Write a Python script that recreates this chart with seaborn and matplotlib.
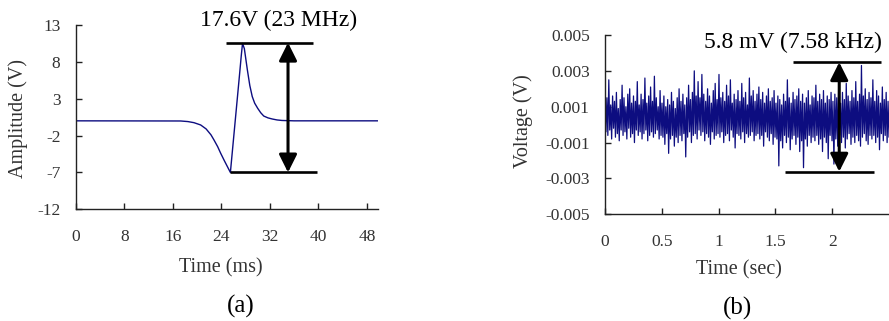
import numpy as np
import pandas as pd
import matplotlib
matplotlib.use("Agg")
import matplotlib.pyplot as plt
import seaborn as sns

# ---------------- data ----------------
# (a) pulse waveform: time (ms) and amplitude (V)
pulse_time_ms = [0, 17.3, 18.5, 19.5, 20.6, 21.5, 22.3, 22.8,
                 23.4, 23.9, 24.5, 25.0, 25.5, 26.0, 26.5, 27.0, 27.3, 27.5, 27.8, 28.3,
                 28.7, 29.1, 29.5, 30.0, 30.5, 31.0, 31.7, 32.4, 33.2, 34.0, 36, 49.8]
pulse_amp_v = [0.0, -0.02, -0.1, -0.25,
               -0.56, -1.1, -1.9, -2.6, -3.5, -4.4, -5.4, -6.2, -7.0, -2.6, 1.8, 6.2, 8.9,
               10.5, 9.8, 6.9, 4.8, 3.3, 2.4, 1.7, 1.1, 0.65, 0.4, 0.25, 0.12, 0.05, 0.0, 0.0]

# (b) noise trace: voltage in mV, sampled evenly from 0 to 2.5 s
noise_t_end_s = 2.5
noise_mv = [
    1.2, -0.4, 1.5, -0.6, 2.5, -0.3, 1.1, -0.8, 1.6, -0.2, 1.3, -0.7, 1.8, -0.5, 0.9, -0.9, 1.4, -0.3, 2.2, -0.6,
    1.5, -0.4, 1.0, -0.8, 1.7, -0.2, 2.0, -0.7, 1.2, -0.5, 1.6, -1.0, 1.3, -0.3, 2.4, -0.6, 1.1, -0.4, 1.7, -0.8,
    1.4, -0.5, 2.6, -0.3, 1.2, -0.9, 1.6, -0.6, 2.1, -0.4, 1.3, -0.7, 2.7, -0.5, 1.5, -0.3, 1.0, -0.8, 1.9, -0.6,
    1.2, -0.7, 1.6, -1.1, 1.0, -0.5, 1.4, -1.6, 1.1, -0.8, 1.8, -0.6, 1.3, -1.2, 0.9, -0.7, 1.5, -1.0, 2.0, -0.6,
    1.3, -0.9, 1.7, -0.5, 1.1, -1.8, 1.5, -0.7, 2.2, -0.4, 1.4, -1.0, 1.8, -0.6, 3.0, -0.5, 1.6, -0.8, 2.4, -0.3,
    1.5, -0.6, 2.8, -0.4, 1.7, -0.9, 1.3, -0.5, 2.0, -0.7, 1.6, -1.1, 1.2, -0.4, 1.9, -0.8, 2.3, -0.6, 1.4, -0.5,
    2.8, -0.7, 1.5, -0.4, 1.8, -1.0, 1.3, -0.6, 2.2, -0.5, 1.6, -0.9, 2.5, -0.3, 1.2, -0.7, 1.7, -1.3, 1.4, -0.5,
    1.9, -0.6, 1.3, -0.8, 2.3, -0.4, 1.5, -1.0, 1.8, -0.5, 1.1, -0.7, 2.6, -0.6, 1.6, -0.4, 1.9, -0.9, 1.3, -0.6,
    1.7, -0.5, 2.1, -0.8, 1.4, -0.6, 1.8, -1.2, 1.2, -0.4, 1.6, -0.7, 2.0, -0.9, 1.3, -0.5, 1.5, -1.1, 1.9, -0.7,
    1.2, -0.8, 1.6, -2.3, 1.4, -0.9, 1.1, -1.3, 1.7, -0.6, 1.3, -1.0, 2.5, -0.7, 1.5, -1.4, 1.2, -0.8, 1.8, -0.6,
    1.4, -1.1, 1.6, -0.7, 2.0, -1.5, 1.3, -0.9, 1.7, -2.4, 1.2, -0.8, 1.5, -1.2, 1.9, -0.6, 1.1, -1.0, 1.6, -0.7,
    1.5, -0.9, 2.2, -0.6, 1.3, -1.1, 1.7, -0.8, 1.4, -1.5, 1.9, -0.7, 1.2, -1.0, 1.6, -1.9, 1.4, -0.6, 1.8, -0.9,
    1.3, -2.2, 1.7, -0.8, 1.5, -1.2, 2.1, -0.6, 1.2, -1.0, 1.8, -0.7, 1.4, -1.3, 2.3, -0.8, 1.6, -0.5, 1.3, -1.1,
    1.9, -0.7, 1.5, -1.0, 2.4, -0.6, 1.3, -0.9, 1.7, -1.2, 3.3, -0.7, 1.6, -0.5, 2.0, -0.9, 1.4, -1.1, 1.8, -0.6,
    1.5, -0.8, 2.5, -0.6, 1.3, -1.0, 1.9, -0.7, 1.6, -1.4, 1.2, -0.5, 2.1, -0.9, 1.4, -0.6, 1.8, -1.0, 1.3, -0.7,
]

# ticks / labels
a_xticks = [0, 8, 16, 24, 32, 40, 48]
a_yticks = [-12, -7, -2, 3, 8, 13]
b_xticks = [0, 0.5, 1, 1.5, 2]
b_xticklabels = ["0", "0.5", "1", "1.5", "2"]
b_yticks = [-0.005, -0.003, -0.001, 0.001, 0.003, 0.005]
b_yticklabels = ["-0.005", "-0.003", "-0.001", "0.001", "0.003", "0.005"]

# annotation values
a_top, a_bot = 10.6, -7.0
a_label = "17.6V (23 MHz)"
b_top, b_bot = 0.00348, -0.00262
b_label = "5.8 mV (7.58 kHz)"

# ---------------- style ----------------
sns.set_theme(style="ticks")
plt.rcParams["font.family"] = ["Liberation Serif", "DejaVu Serif"]
plt.rcParams["axes.unicode_minus"] = False
TXT = "#333333"
LINE = "#0d0d80"

fig = plt.figure(figsize=(8.89, 3.21), dpi=100)
W, H = 889, 321

def axes_px(left, top, right, bottom):
    return fig.add_axes([left / W, 1 - bottom / H, (right - left) / W, (bottom - top) / H])

axA = axes_px(75.7, 25, 377.8, 209.3)
axB = axes_px(605, 35, 889, 214.3)

# ---------------- (a) ----------------
dfa = pd.DataFrame({"t": pulse_time_ms, "v": pulse_amp_v})
sns.lineplot(data=dfa, x="t", y="v", ax=axA, color=LINE, lw=1.0, estimator=None, sort=False)
axA.set_xlim(0, 49.8)
axA.set_ylim(-12, 13)
axA.set_xticks(a_xticks)
axA.set_yticks(a_yticks)

# ---------------- (b) ----------------
noise_v = np.array(noise_mv) * 1e-3
noise_t = np.linspace(0, noise_t_end_s, len(noise_v))
dfb = pd.DataFrame({"t": noise_t, "v": noise_v})
sns.lineplot(data=dfb, x="t", y="v", ax=axB, color=LINE, lw=0.9, estimator=None, sort=False)
axB.set_xlim(0, 2.5)
axB.set_ylim(-0.005, 0.005)
axB.set_xticks(b_xticks)
axB.set_xticklabels(b_xticklabels)
axB.set_yticks(b_yticks)
axB.set_yticklabels(b_yticklabels)

for ax in (axA, axB):
    sns.despine(ax=ax)
    for s in ("left", "bottom"):
        ax.spines[s].set_color("#222222")
        ax.spines[s].set_linewidth(1.0)
    ax.tick_params(axis="both", direction="in", length=4, width=1, color="#222222",
                   labelsize=12.5, labelcolor=TXT)
    ax.tick_params(axis="y", pad=11)
    ax.tick_params(axis="x", pad=14)
    ax.set_facecolor("white")

axA.set_xlabel("Time (ms)", fontsize=14.5, color=TXT)
axA.set_ylabel("Amplitude (V)", fontsize=14.5, color=TXT)
axA.xaxis.label.set_va("center")
axA.yaxis.label.set_va("center")
axA.xaxis.set_label_coords(0.48, -0.3185)
axA.yaxis.set_label_coords(-0.191, 0.495)

axB.set_xlabel("Time (sec)", fontsize=14.5, color=TXT)
axB.set_ylabel("Voltage (V)", fontsize=14.5, color=TXT)
axB.xaxis.label.set_va("center")
axB.yaxis.label.set_va("center")
axB.xaxis.set_label_coords(0.472, -0.311)
axB.yaxis.set_label_coords(-0.289, 0.52)

# ---------------- annotations ----------------
def bracket(ax, x_top, x_bot, x_arrow, top, bot, label, lx, ly):
    ax.plot(x_top, [top, top], color="black", lw=1.9, clip_on=False, solid_capstyle="butt")
    ax.plot(x_bot, [bot, bot], color="black", lw=1.9, clip_on=False, solid_capstyle="butt")
    ax.annotate("", xy=(x_arrow, top), xytext=(x_arrow, bot),
                arrowprops=dict(arrowstyle="<|-|>,head_length=0.9,head_width=0.45",
                                color="black", lw=2.2, shrinkA=0, shrinkB=0),
                annotation_clip=False)
    ax.text(lx, ly, label, ha="center", va="center", fontsize=17, color="black", clip_on=False)

bracket(axA, [24.8, 39.1], [25.5, 39.7], 35.0, a_top, a_bot, a_label, 33.5, 13.6)
bracket(axB, [1.653, 2.432], [1.586, 2.364], 2.062, b_top, b_bot, b_label, 1.652, 0.00457)

fig.text(241 / W, 1 - 306 / H, "(a)", ha="center", va="center", fontsize=18, color="black")
fig.text(737 / W, 1 - 308 / H, "(b)", ha="center", va="center", fontsize=18, color="black")

fig.savefig("out.png", dpi=100, facecolor="white")
